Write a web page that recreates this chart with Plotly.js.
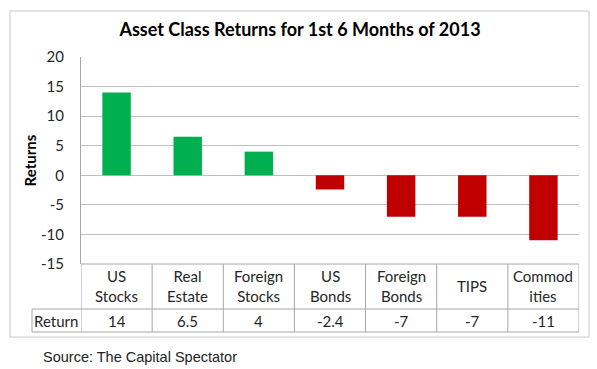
<!DOCTYPE html>
<html>
<head>
<meta charset="utf-8">
<script src="https://cdn.plot.ly/plotly-3.0.1.min.js"></script>
<style>html,body{margin:0;padding:0;background:#fff;}#chart{width:597px;height:369px;}</style>
</head>
<body>
<div id="chart"></div>
<script>
// ---- data ----
const categories = ["US Stocks", "Real Estate", "Foreign Stocks", "US Bonds", "Foreign Bonds", "TIPS", "Commodities"];
const categoryLabels = ["US<br>Stocks", "Real<br>Estate", "Foreign<br>Stocks", "US<br>Bonds", "Foreign<br>Bonds", "TIPS", "Commod<br>ities"];
const returnsValues = [14, 6.5, 4, -2.4, -7, -7, -11];
const seriesName = "Return";
const yTickValues = [-15, -10, -5, 0, 5, 10, 15, 20];
const titleText = "Asset Class Returns for 1st 6 Months of 2013";
const yTitleText = "Returns";
const sourceText = "Source: The Capital Spectator";

// ---- layout helpers (pixel -> paper) ----
const W = 597, H = 369, L = 81, R = 579, T = 57, B = 264;
const px = x => (x - L) / (R - L);
const py = y => (B - y) / (B - T);

const GREEN = "#00b050", RED = "#c00000";
const barColors = returnsValues.map(v => v >= 0 ? GREEN : RED);
const textFont = "Lato, 'Noto Sans', sans-serif";
const tableLine = {color: "#a6a6a6", width: 1};

const shapes = [];
// outer chart frame
shapes.push({type: "rect", xref: "paper", yref: "paper", x0: px(10), x1: px(589), y0: py(337), y1: py(11), line: {color: "#c8c8c8", width: 1}, layer: "below"});
// data table horizontal lines
shapes.push({type: "line", xref: "paper", yref: "paper", x0: 0, x1: 1, y0: py(264), y1: py(264), line: tableLine});
shapes.push({type: "line", xref: "paper", yref: "paper", x0: px(32), x1: 1, y0: py(309), y1: py(309), line: tableLine});
shapes.push({type: "line", xref: "paper", yref: "paper", x0: px(32), x1: 1, y0: py(332), y1: py(332), line: tableLine});
// "Return" cell left border
shapes.push({type: "line", xref: "paper", yref: "paper", x0: px(32), x1: px(32), y0: py(309), y1: py(332), line: tableLine});
// column borders
for (let i = 0; i <= categories.length; i++) {
  shapes.push({type: "line", xref: "x", yref: "paper", x0: i - 0.5, x1: i - 0.5, y0: py(264), y1: py(332), line: tableLine});
}

const annotations = [];
categories.forEach((c, i) => {
  annotations.push({xref: "x", yref: "paper", x: c, y: py(286), text: categoryLabels[i], showarrow: false,
    font: {family: textFont, size: 15, color: "#262626"}, xanchor: "center", yanchor: "middle", align: "center"});
  annotations.push({xref: "x", yref: "paper", x: c, y: py(321), text: String(returnsValues[i]), showarrow: false,
    font: {family: textFont, size: 15, color: "#262626"}, xanchor: "center", yanchor: "middle"});
});
annotations.push({xref: "paper", yref: "paper", x: px(56), y: py(321), text: seriesName, showarrow: false,
  font: {family: textFont, size: 15, color: "#262626"}, xanchor: "center", yanchor: "middle"});
annotations.push({xref: "paper", yref: "paper", x: px(41), y: py(357), text: sourceText, showarrow: false,
  font: {family: "'Liberation Sans', Arial, sans-serif", size: 14.5, color: "#222"}, xanchor: "left", yanchor: "middle"});

const trace = {
  type: "bar",
  x: categories,
  y: returnsValues,
  name: seriesName,
  marker: {color: barColors, line: {width: 0}},
  width: 0.4,
  hoverinfo: "x+y"
};

const layout = {
  width: W, height: H,
  margin: {l: L, r: W - R, t: T, b: H - B, pad: 0},
  paper_bgcolor: "#ffffff", plot_bgcolor: "#ffffff",
  showlegend: false,
  title: {text: "<b>" + titleText + "</b>", x: 300 / W, xref: "container", xanchor: "center", y: 1 - 30 / H, yref: "container", yanchor: "middle",
    font: {family: textFont, size: 18, color: "#000"}},
  xaxis: {type: "category", range: [-0.5, categories.length - 0.5], showticklabels: false, showgrid: false, zeroline: false, showline: false, ticks: "", fixedrange: true},
  yaxis: {range: [-15, 20], tickvals: yTickValues, ticktext: yTickValues.map(String), showgrid: true, gridcolor: "#bfbfbf", gridwidth: 1,
    zeroline: false, showline: true, linecolor: "#a6a6a6", linewidth: 1, ticks: "", ticklabelstandoff: 13,
    tickfont: {family: textFont, size: 15, color: "#262626"},
    title: {text: "<b>" + yTitleText + "</b>", font: {family: textFont, size: 15, color: "#000"}, standoff: 0},
    automargin: false, fixedrange: true},
  shapes: shapes,
  annotations: annotations,
  bargap: 0.6
};

Plotly.newPlot("chart", [trace], layout, {displayModeBar: false, staticPlot: true});
</script>
</body>
</html>
